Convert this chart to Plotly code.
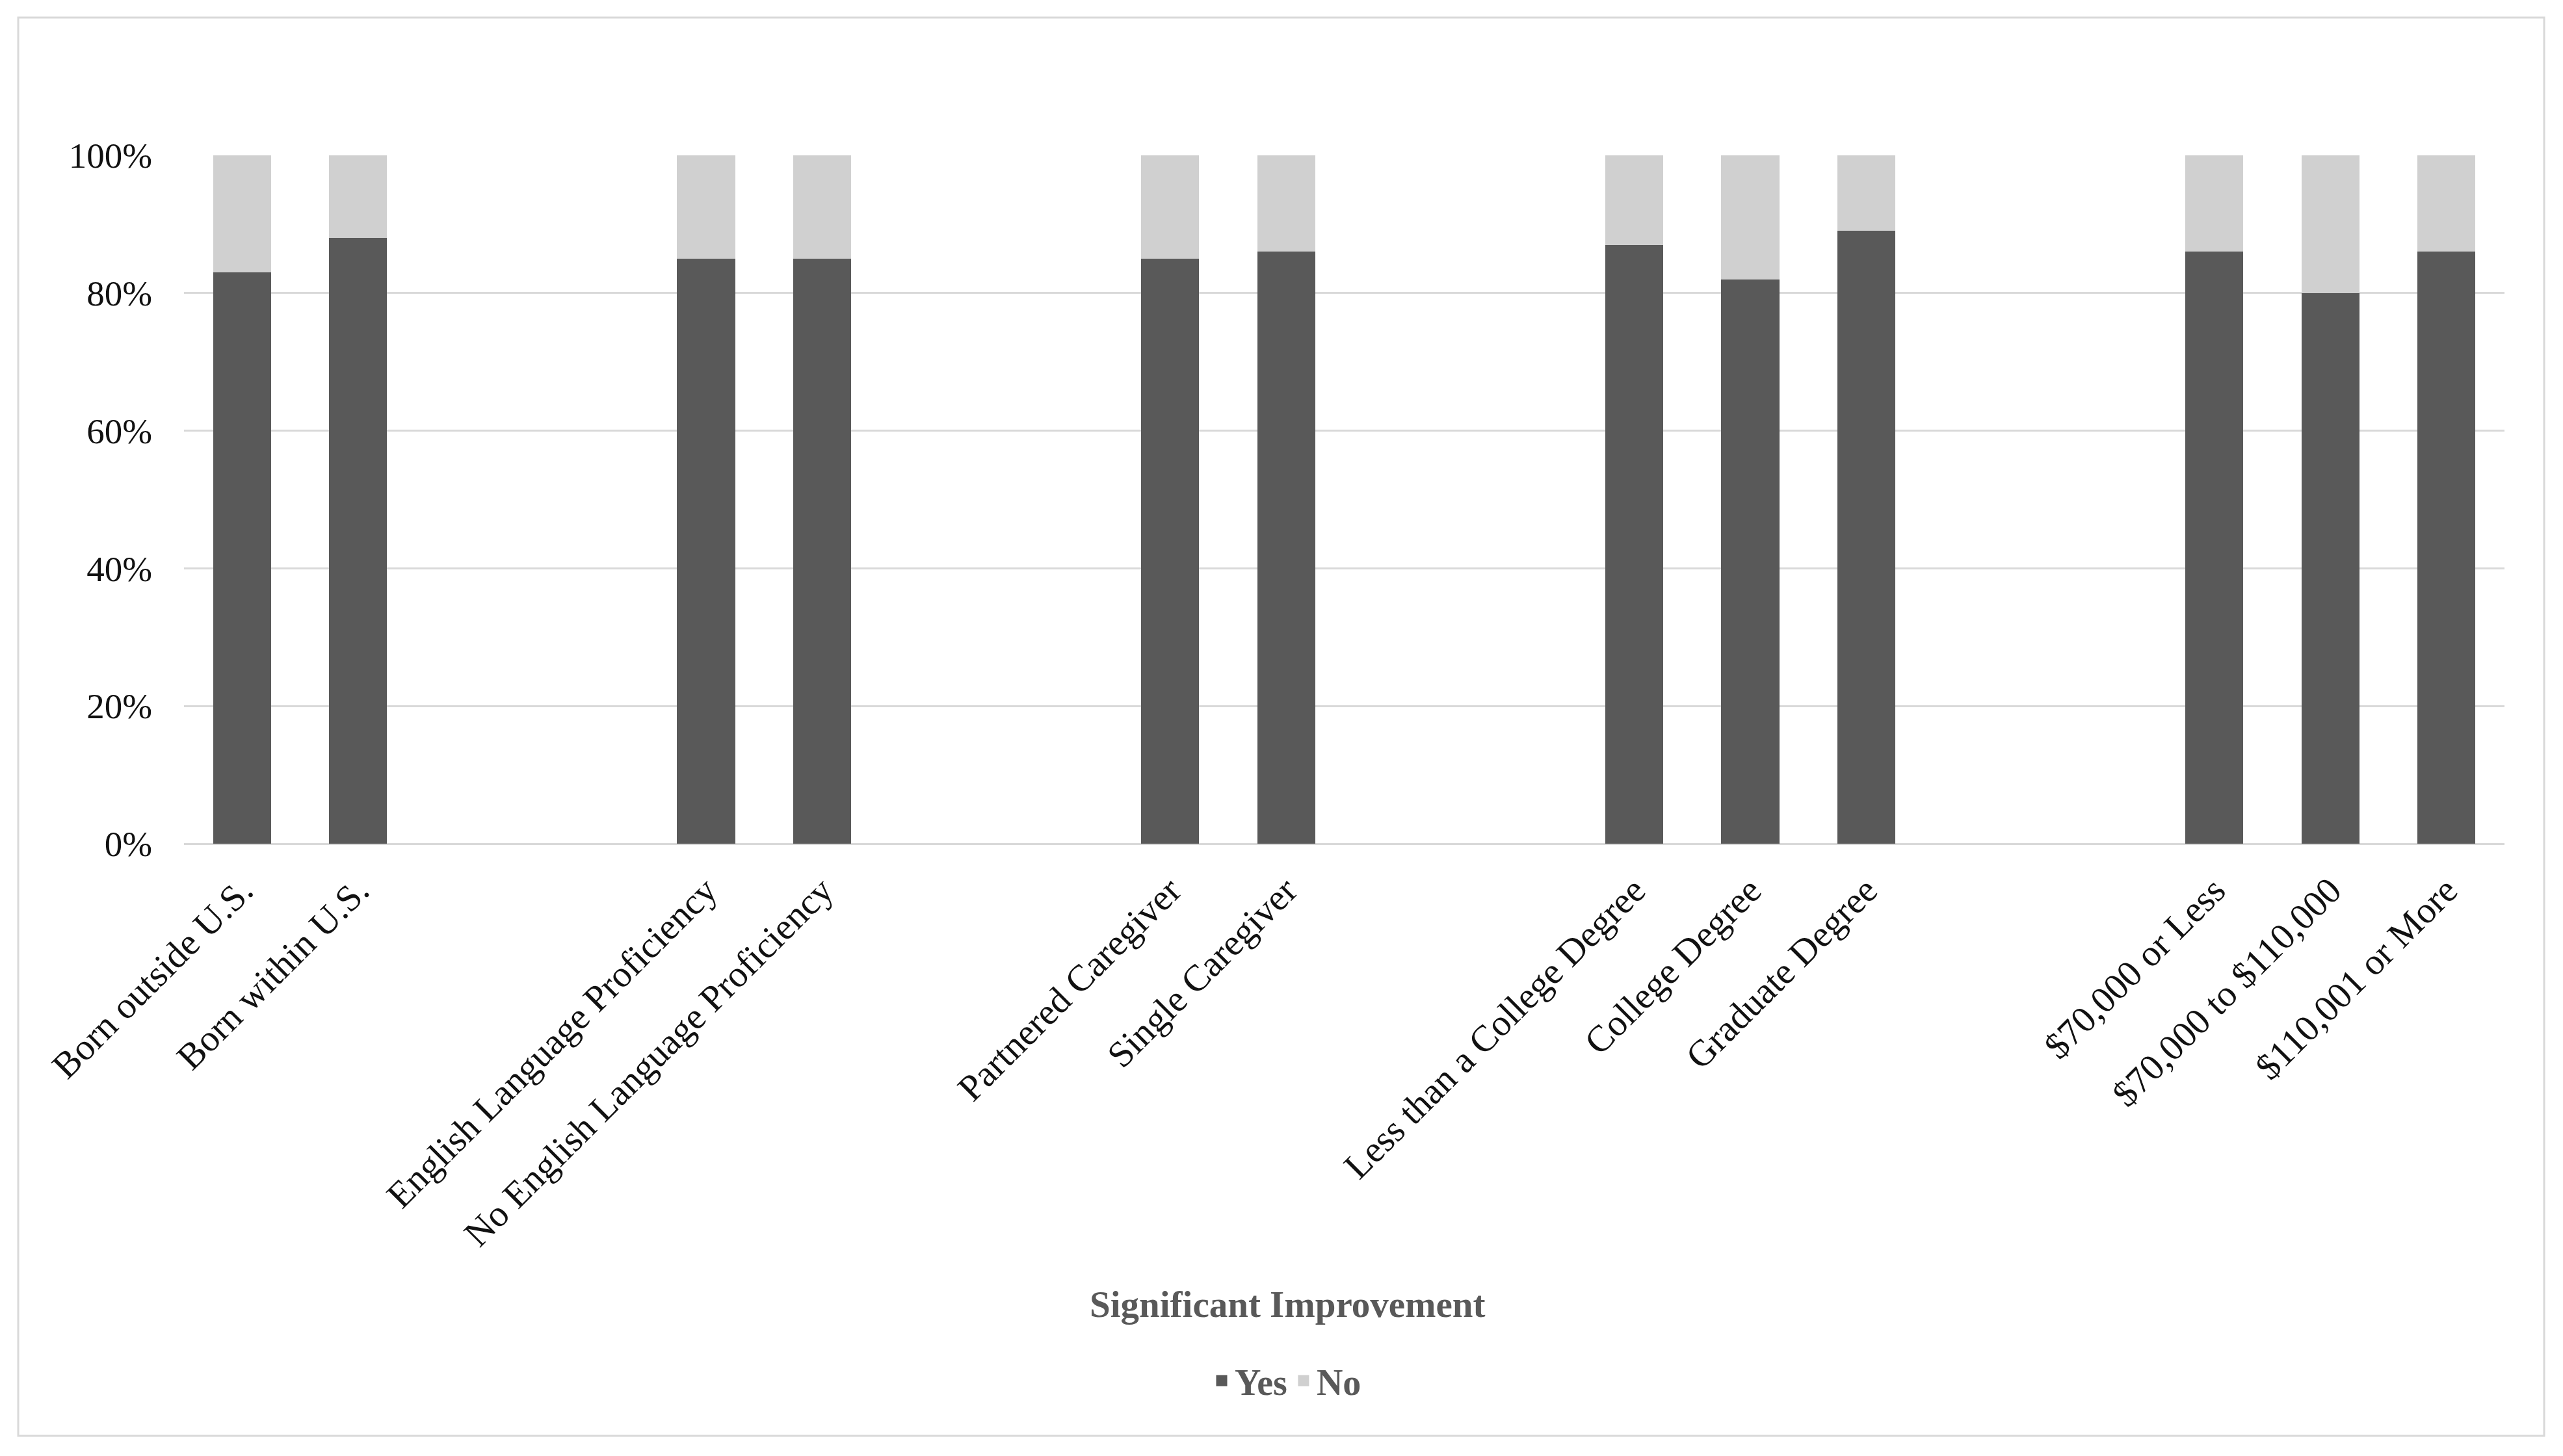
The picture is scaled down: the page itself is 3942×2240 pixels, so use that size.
import plotly.graph_objects as go

# ---- data ----
groups = [
    ["Born outside U.S.", "Born within U.S."],
    ["English Language Proficiency", "No English Language Proficiency"],
    ["Partnered Caregiver", "Single Caregiver"],
    ["Less than a College Degree", "College Degree", "Graduate Degree"],
    ["$70,000 or Less", "$70,000 to $110,000", "$110,001 or More"],
]
yes_values = [83, 88, 85, 85, 85, 86, 87, 82, 89, 86, 80, 86]
no_values = [17, 12, 15, 15, 15, 14, 13, 18, 11, 14, 20, 14]
y_ticks = [0, 20, 40, 60, 80, 100]
y_tick_labels = ["0%", "20%", "40%", "60%", "80%", "100%"]
axis_title = "Significant Improvement"
series_names = ["Yes", "No"]

# ---- slot positions: 2 empty slots between groups ----
GAP = 2
categories, positions = [], []
pos = 0
for g in groups:
    for c in g:
        categories.append(c)
        positions.append(pos)
        pos += 1
    pos += GAP
n_slots = pos - GAP

W, H = 3942, 2240
OFF = 8  # default page body margin
# plot area in page pixels
PL, PR, PT, PB = 283, 3852, 239, 1298
L, T = PL - OFF, PT - OFF
R, B = W - (PR - OFF), H - (PB - OFF)
pw, ph = PR - PL, PB - PT

FONT = "Liberation Serif, Times New Roman, serif"
DARK = "#595959"
LIGHT = "#d0d0d0"
GRID = "#d9d9d9"
colors = [DARK, LIGHT]


def px_x(v):
    return (v - PL) / pw


def px_y(v):
    return (PB - v) / ph


fig = go.Figure()
for name, vals, col in zip(series_names, [yes_values, no_values], colors):
    fig.add_trace(go.Bar(x=positions, y=vals, name=name, showlegend=False,
                         marker=dict(color=col, line=dict(width=0))))
# legend entries (bigger swatches)
for name, col in zip(series_names, colors):
    fig.add_trace(go.Bar(x=[None], y=[None], name=name, showlegend=True,
                         marker=dict(color=col, line=dict(width=5, color=col))))

fig.update_layout(
    width=W, height=H,
    margin=dict(l=L, r=R, t=T, b=B, autoexpand=False),
    barmode="stack", bargap=0.5,
    plot_bgcolor="white", paper_bgcolor="white",
    font=dict(family=FONT, size=55, color="#111111"),
    xaxis=dict(
        range=[-0.5, n_slots - 0.5],
        tickmode="array", tickvals=positions, ticktext=categories,
        tickangle=-45, showgrid=False, zeroline=False, showline=False,
        ticks="", ticklabelstandoff=26,
        tickfont=dict(family=FONT, size=57, color="#111111"),
    ),
    yaxis=dict(
        range=[0, 100], tickmode="array", tickvals=y_ticks, ticktext=y_tick_labels,
        showgrid=True, gridcolor=GRID, gridwidth=3,
        zeroline=True, zerolinecolor=GRID, zerolinewidth=3,
        showline=False, ticks="", ticklabelstandoff=48,
        tickfont=dict(family=FONT, size=55, color="#111111"),
    ),
    legend=dict(
        orientation="h", x=px_x(1979), xanchor="center",
        y=px_y(2124), yanchor="middle",
        font=dict(family=FONT, size=56, color=DARK, weight="bold"),
        itemwidth=30, traceorder="normal", bgcolor="rgba(0,0,0,0)",
    ),
    showlegend=True,
)

fig.add_annotation(
    text="<b>" + axis_title + "</b>", xref="paper", yref="paper",
    x=px_x(1980), y=px_y(2006), xanchor="center", yanchor="middle",
    showarrow=False, font=dict(family=FONT, size=57, color=DARK),
)

# chart-area border
fig.add_shape(type="rect", xref="paper", yref="paper",
              x0=px_x(28), x1=px_x(3913), y0=px_y(2209), y1=px_y(27),
              line=dict(color=GRID, width=3), fillcolor="rgba(0,0,0,0)", layer="below")

fig.write_html("out.html")
